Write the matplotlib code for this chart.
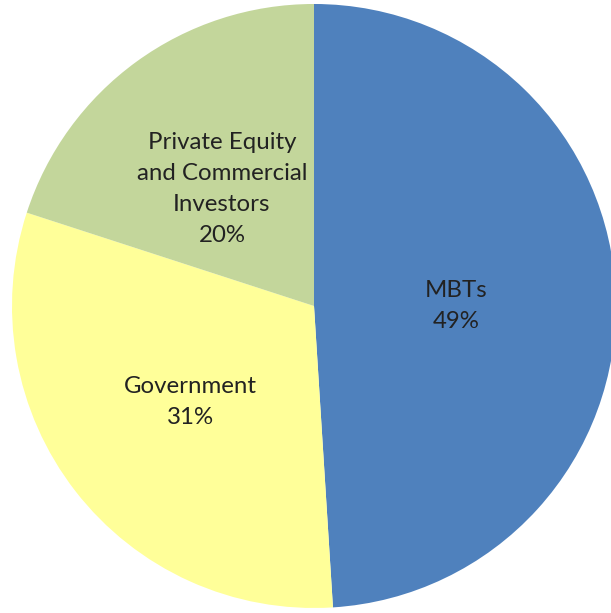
import matplotlib.pyplot as plt

labels = ['MBTs', 'Government', 'Private Equity\nand Commercial\nInvestors']
shares = [49, 31, 20]
colors = ['#4F81BD', '#FFFF99', '#C3D69B']
label_pos = [(0.47, 0.0), (-0.41, -0.318), (-0.305, 0.387)]

plt.rcParams['font.family'] = ['Lato', 'DejaVu Sans']

fig = plt.figure(figsize=(6.11, 6.13), dpi=100)
ax = fig.add_axes([0, 0, 1, 1])
wedges, _ = ax.pie(shares, colors=colors, startangle=90, counterclock=False,
                   radius=1.0, wedgeprops=dict(linewidth=0))

for lab, val, (x, y) in zip(labels, shares, label_pos):
    ax.text(x, y, '%s\n%d%%' % (lab, val), ha='center', va='center',
            fontsize=17.3, color='#222222', linespacing=1.6)

ax.set_xlim(-1.0397, 0.9834)
ax.set_ylim(-1.0166, 1.0132)
ax.set_aspect('auto')
ax.axis('off')
fig.savefig('out.png', dpi=100)
